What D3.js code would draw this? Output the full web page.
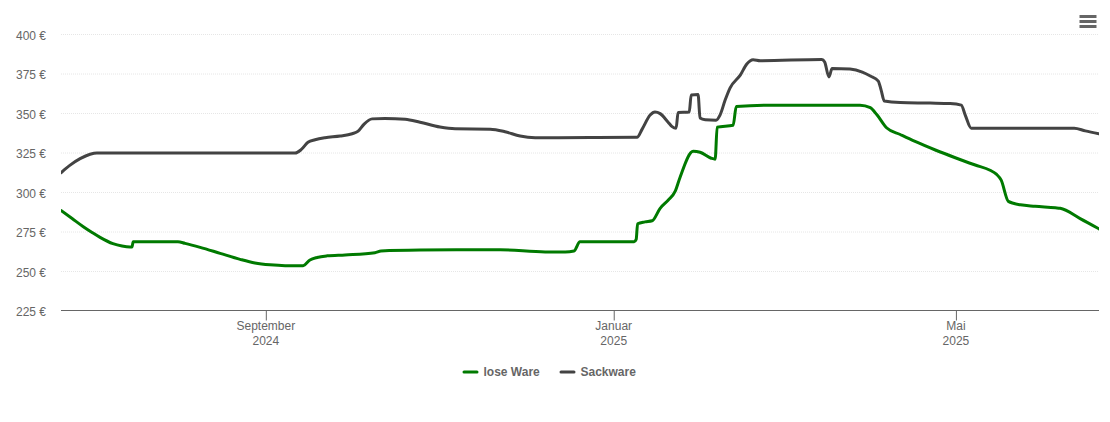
<!DOCTYPE html>
<html>
<head>
<meta charset="utf-8">
<script src="https://cdn.jsdelivr.net/npm/d3@7"></script>
<style>
html,body{margin:0;padding:0;background:#fff}
svg{display:block;font-family:"Liberation Sans",Arial,sans-serif}
</style>
</head>
<body>
<svg id="chart" width="1110" height="422"></svg>
<script>
// Days counted from the first day of the period shown
const startDate = "2024-06-21";
const endDate = "2025-06-20";

const loseDays = [0,3.9,7.7,10.9,13.7,18.2,21.4,24.2,24.9,25.3,41,43.5,48.8,55.8,62.8,68,73.3,78.6,84.9,87.3,89.8,93.3,99.6,110.1,112.2,125.9,154,169.8,176.8,179.9,182,201,201.7,202.2,204.8,207.3,210.1,212.9,215.4,217.1,221.7,224.1,228,229.4,230.1,235.7,236.8,252.2,280.2,283.8,286.2,289.6,294.3,299.5,306.6,313.6,320.6,325.8,328,329.7,332.2,336.4,341.6,348.7,350.4,357.4,364];
const loseValues = [288.6,283.5,278.5,274.7,271.6,267.6,266.1,265.5,265.5,268.8,268.8,267.8,265.3,261.5,257.7,255.4,254.2,253.7,253.7,257.3,258.9,259.9,260.5,261.9,263,263.6,263.8,262.4,262.4,263,268.8,268.8,270.3,280.2,281.4,282.1,290,295.1,300.8,309.7,326.1,325.5,321.7,321.1,341.4,342.6,354.4,355.3,355.3,353.7,349,340.8,336.7,332.3,326.9,322,317.4,314.1,311.6,307.8,294.4,292.2,291.3,290.3,290,283.5,277];

const sackDays = [0,3.2,6.7,10.2,12.6,82.1,84.2,86.6,89.1,92.6,97.9,102.1,104.2,106.3,109.1,113.6,120.7,125.9,132.9,138.2,150.5,155.7,161,166.3,185.5,202,203.8,206.6,208.3,210.1,212.9,214.3,215.7,216.4,220.3,221,223.4,224.1,225.9,229.7,231.1,232.9,234.6,238.2,240.5,242.7,245.2,266.8,267.8,269.3,270.4,276.7,281,283.8,286.6,287.6,288.7,294.3,304.8,311.8,315.7,317.1,319.2,350.4,355.3,359.2,364];
const sackValues = [312.5,317.3,321.4,324.2,325,325,327.1,331.8,333.4,334.7,335.7,337.2,338.8,343.3,346.6,346.9,346.4,344.5,341.4,340.3,340.1,338.5,335.7,334.7,334.8,335,340.1,349,350.9,349.9,344.5,341.7,340.7,350.6,350.9,361.7,362,347.1,346.1,345.8,349,358.5,366.1,374.3,381.3,384,383.4,384.2,382.6,373.1,378.5,378.1,376.2,373.7,370.5,364.8,357.9,356.9,356.6,356.3,355.3,349,340.7,340.7,340.7,339,337.2];

const yTicks = [225,250,275,300,325,350,375,400];
const xTickDates = ["2024-09-01","2025-01-01","2025-05-01"];
const xTickMonths = ["September","Januar","Mai"];
const xTickYears = ["2024","2025","2025"];
const seriesNames = ["lose Ware","Sackware"];
const seriesColors = ["#007a00","#434343"];

const svg = d3.select("#chart");
const parse = d3.utcParse("%Y-%m-%d");
const t0 = parse(startDate);
const toDate = d => new Date(+t0 + d * 864e5);

const x = d3.scaleUtc().domain([t0, parse(endDate)]).range([61, 1099]);
const y = d3.scaleLinear().domain([225, 400]).range([311, 34.5]);

svg.append("defs").append("clipPath").attr("id", "plot").append("rect")
  .attr("x", 61).attr("y", 0).attr("width", 1038).attr("height", 311);

// grid
svg.append("g").selectAll("line").data(yTicks.slice(1)).join("line")
  .attr("x1", 61).attr("x2", 1099)
  .attr("y1", d => y(d)).attr("y2", d => y(d))
  .attr("stroke", "#e6e6e6").attr("stroke-width", 1).attr("stroke-dasharray", "1,1");

// y labels
const yAxis = d3.axisLeft(y).tickValues(yTicks).tickSize(0).tickPadding(0).tickFormat(d => d + " €");
const gy = svg.append("g").attr("transform", "translate(46,0.6)").call(yAxis);
gy.select(".domain").remove();
gy.selectAll("text").attr("fill", "#666").attr("font-size", 12).attr("font-family", '"Liberation Sans",Arial,sans-serif').attr("dy", "0.35em");

// x axis
const xAxis = d3.axisBottom(x).tickValues(xTickDates.map(parse)).tickSize(10).tickFormat("").offset(0);
const gx = svg.append("g").attr("transform", "translate(0,310.5)").call(xAxis);
gx.select(".domain").attr("stroke", "#666").attr("d", "M61,0H1099");
gx.selectAll(".tick line").attr("stroke", "#666");
gx.selectAll(".tick text").remove();
const xLab = svg.append("g").attr("fill", "#666").attr("font-size", 12).attr("text-anchor", "middle");
xTickDates.forEach((d, i) => {
  xLab.append("text").attr("x", x(parse(d)) - 0.5).attr("y", 330).text(xTickMonths[i]);
  xLab.append("text").attr("x", x(parse(d)) - 0.5).attr("y", 345).text(xTickYears[i]);
});

// lines
const line = d3.line().x(d => x(toDate(d[0]))).y(d => y(d[1])).curve(d3.curveMonotoneX);
[[loseDays, loseValues], [sackDays, sackValues]].forEach(([ds, vs], i) => {
  svg.append("path").datum(ds.map((d, j) => [d, vs[j]]))
    .attr("d", line).attr("fill", "none").attr("clip-path", "url(#plot)")
    .attr("stroke", seriesColors[i]).attr("stroke-width", 3)
    .attr("stroke-linejoin", "round").attr("stroke-linecap", "round");
});

// legend
const legendX = [464, 561];
const lg = svg.append("g");
seriesNames.forEach((n, i) => {
  lg.append("line").attr("x1", legendX[i]).attr("x2", legendX[i] + 13).attr("y1", 372).attr("y2", 372)
    .attr("stroke", seriesColors[i]).attr("stroke-width", 3).attr("stroke-linecap", "round");
  lg.append("text").attr("x", legendX[i] + 19.5).attr("y", 376).attr("font-size", 12).attr("font-weight", "bold")
    .attr("fill", "#666").text(n);
});

// menu icon
const menu = svg.append("g").attr("stroke", "#666").attr("stroke-width", 3);
[16.5, 21.5, 26.5].forEach(v => menu.append("line").attr("x1", 1079.5).attr("x2", 1096.5).attr("y1", v).attr("y2", v));
</script>
</body>
</html>
